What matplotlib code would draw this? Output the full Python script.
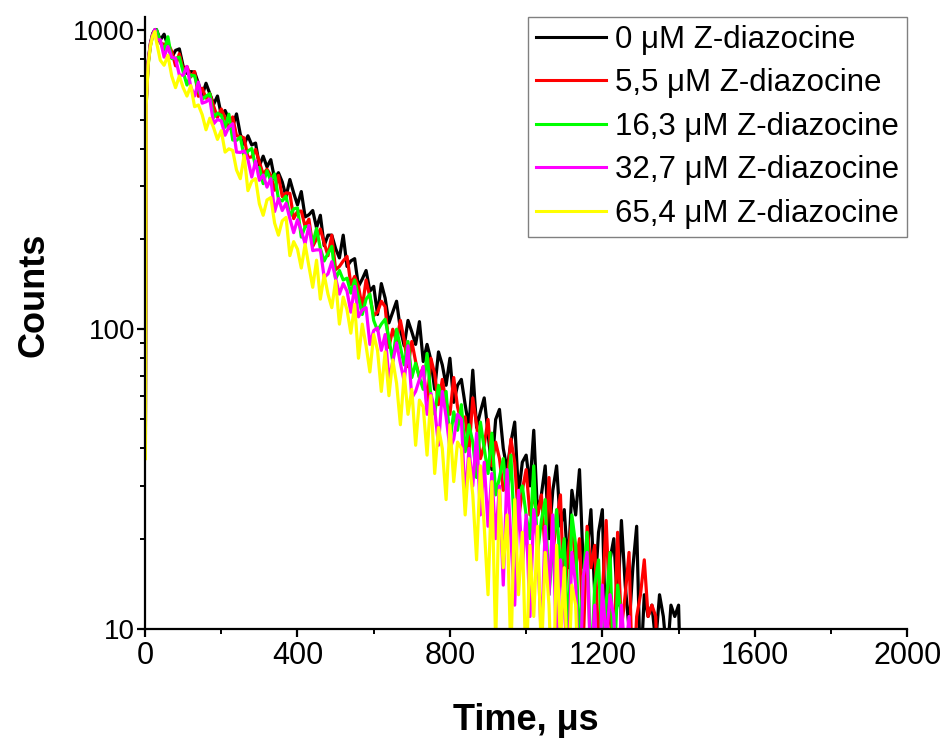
import matplotlib
matplotlib.use('Agg')
import matplotlib.pyplot as plt
from matplotlib.ticker import FixedLocator, LogLocator, MultipleLocator, NullFormatter, FuncFormatter

plt.rcParams['font.family'] = ['Liberation Sans', 'DejaVu Sans']

# time channels in us: fast rise first, then the decay every 10 us
riseTime = [1, 3, 8, 14, 20, 26]
decayTime = list(range(30, 1420, 10))

seriesLabels = ['0 \u03bcM Z-diazocine', '5,5 \u03bcM Z-diazocine', '16,3 \u03bcM Z-diazocine',
                '32,7 \u03bcM Z-diazocine', '65,4 \u03bcM Z-diazocine']
seriesColors = ['#000000', '#FF0000', '#00FF00', '#FF00FF', '#FFFF00']

# counts
rise0 = [50, 580, 780, 900, 970, 1000]
decay0 = [1000, 923, 965, 883, 807, 852, 862, 754, 714, 724,
          721, 661, 602, 662, 610, 563, 600, 519, 537, 502,
          476, 523, 447, 414, 442, 412, 418, 351, 378, 348,
          368, 317, 333, 310, 277, 316, 285, 260, 288, 237,
          241, 249, 218, 240, 190, 206, 206, 186, 173, 206,
          162, 169, 172, 139, 147, 157, 134, 139, 112, 142,
          127, 105, 114, 124, 100, 88, 107, 98, 89, 106,
          78, 89, 79, 63, 84, 76, 65, 80, 57, 65,
          68, 56, 47, 73, 47, 53, 59, 45, 34, 50,
          54, 40, 34, 42, 49, 28, 36, 38, 30, 46,
          24, 28, 35, 20, 29, 35, 22, 25, 16, 29,
          24, 34, 16, 18, 25, 13, 21, 25, 8, 17,
          20, 12, 23, 14, 10, 16, 22, 7, 13, 11,
          12, 9, 13, 11, 8, 12, 11, 12, 4]

rise1 = [48, 570, 770, 890, 960, 995]
decay1 = [990, 901, 893, 900, 846, 757, 830, 734, 753, 695,
          724, 599, 637, 590, 611, 555, 509, 543, 507, 468,
          511, 442, 440, 435, 374, 376, 398, 361, 329, 342,
          326, 291, 326, 277, 285, 284, 234, 247, 248, 220,
          233, 189, 200, 216, 194, 176, 206, 158, 162, 169,
          175, 141, 150, 139, 118, 146, 128, 111, 114, 124,
          119, 87, 100, 91, 107, 92, 75, 91, 78, 69,
          75, 56, 80, 71, 56, 68, 57, 52, 69, 55,
          49, 51, 39, 59, 48, 37, 41, 50, 35, 42,
          37, 29, 31, 43, 36, 23, 29, 34, 24, 28,
          24, 28, 18, 32, 18, 23, 28, 12, 18, 23,
          16, 20, 9, 22, 16, 19, 9, 13, 23, 11,
          8, 21, 10, 13, 18, 6, 11, 13, 17, 11,
          12, 11, 4]

rise2 = [45, 560, 760, 880, 955, 990]
decay2 = [998, 912, 846, 946, 800, 802, 809, 723, 653, 705,
          701, 628, 585, 599, 611, 509, 526, 518, 472, 522,
          428, 427, 438, 376, 393, 401, 348, 346, 306, 338,
          312, 330, 272, 268, 278, 238, 252, 254, 203, 220,
          220, 193, 217, 186, 169, 179, 189, 147, 157, 146,
          148, 132, 146, 128, 112, 126, 131, 107, 99, 104,
          108, 93, 78, 100, 87, 76, 91, 69, 77, 69,
          63, 83, 60, 52, 65, 57, 62, 42, 53, 46,
          56, 39, 48, 42, 32, 49, 40, 33, 45, 28,
          32, 37, 27, 38, 20, 28, 30, 24, 20, 35,
          18, 23, 27, 13, 19, 25, 16, 20, 9, 24,
          19, 9, 15, 21, 7, 14, 17, 8, 12, 18,
          7, 14, 11, 5]

rise3 = [42, 560, 770, 890, 960, 1000]
decay3 = [924, 925, 809, 878, 808, 802, 705, 704, 753, 644,
          600, 668, 568, 574, 586, 485, 501, 496, 444, 473,
          485, 390, 389, 394, 368, 322, 364, 314, 327, 298,
          318, 247, 273, 249, 263, 234, 210, 232, 213, 193,
          222, 183, 184, 184, 149, 153, 168, 148, 131, 142,
          134, 114, 139, 110, 116, 118, 89, 99, 101, 85,
          96, 68, 78, 90, 77, 67, 88, 59, 62, 68,
          75, 52, 61, 54, 41, 62, 51, 40, 43, 52,
          50, 27, 40, 30, 45, 24, 36, 22, 33, 20,
          30, 14, 34, 20, 12, 29, 16, 24, 11, 25,
          19, 9, 22, 13, 24, 8, 17, 12, 7, 18,
          14, 6, 15, 18, 7, 12, 5, 14, 9, 13,
          11, 6, 12, 8, 11, 4]

rise4 = [37, 560, 760, 880, 950, 985]
decay4 = [909, 790, 760, 820, 700, 640, 700, 640, 600, 650,
          553, 560, 520, 463, 506, 470, 430, 460, 390, 400,
          395, 340, 318, 380, 290, 312, 318, 262, 240, 270,
          275, 226, 206, 230, 236, 176, 196, 185, 160, 192,
          162, 138, 170, 126, 152, 131, 118, 145, 104, 128,
          116, 97, 121, 80, 104, 88, 72, 96, 85, 62,
          84, 60, 79, 66, 48, 71, 52, 63, 41, 58,
          55, 38, 60, 33, 47, 40, 27, 48, 31, 42,
          40, 24, 37, 28, 17, 35, 22, 13, 31, 9,
          29, 16, 24, 8, 27, 13, 21, 7, 19, 11,
          22, 8, 18, 12, 5, 19, 9, 16, 6, 14,
          12, 5, 4]

rises = [rise0, rise1, rise2, rise3, rise4]
decays = [decay0, decay1, decay2, decay3, decay4]

fig = plt.figure(figsize=(9.48, 7.46), dpi=100)
ax = fig.add_axes([0.153, 0.157, 0.804, 0.820])

for r, d, lab, col in zip(rises, decays, seriesLabels, seriesColors):
    t = riseTime + decayTime[:len(d)]
    ax.plot(t, r + d, color=col, lw=2.3, label=lab)

ax.set_yscale('log')
ax.set_xlim(0, 2000)
ax.set_ylim(10, 1100)

ax.xaxis.set_major_locator(MultipleLocator(400))
ax.xaxis.set_minor_locator(MultipleLocator(200))
ax.yaxis.set_major_locator(FixedLocator([10, 100, 1000]))
ax.yaxis.set_major_formatter(FuncFormatter(lambda v, p: '%d' % v))
ax.yaxis.set_minor_locator(LogLocator(base=10, subs=range(2, 10)))
ax.yaxis.set_minor_formatter(NullFormatter())

for s in ['top', 'right']:
    ax.spines[s].set_visible(False)
for s in ['left', 'bottom']:
    ax.spines[s].set_linewidth(1.6)

ax.tick_params(axis='both', which='major', direction='out', length=6, width=1.6)
ax.tick_params(axis='both', which='minor', direction='out', length=3.5, width=1.4)
ax.tick_params(axis='x', which='major', labelsize=22, pad=3)
ax.tick_params(axis='y', which='major', labelsize=20, pad=1)

ax.set_xlabel('Time, \u03bcs', fontsize=26, fontweight='bold', va='center')
ax.xaxis.set_label_coords(0.5, -0.15)
ax.set_ylabel('Counts', fontsize=26, fontweight='bold', va='center')
ax.yaxis.set_label_coords(-0.146, 0.546)

leg = ax.legend(loc='upper right', borderaxespad=0, fancybox=False, edgecolor='#808080',
                framealpha=1, fontsize=22.5, handlelength=2.25, handletextpad=0.3,
                labelspacing=0.43, borderpad=0.25)
leg.get_frame().set_linewidth(1.0)
for ln in leg.get_lines():
    ln.set_linewidth(2.2)

fig.savefig('out.png', dpi=100)
